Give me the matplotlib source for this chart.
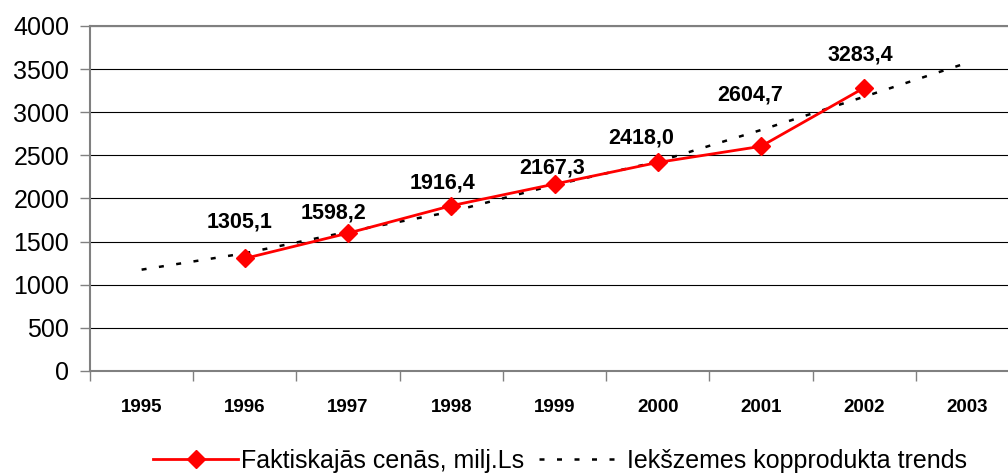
import numpy as np
import matplotlib
matplotlib.use('Agg')
import matplotlib.pyplot as plt

plt.rcParams['font.family'] = ['Liberation Sans', 'DejaVu Sans']

# category axis
years = ['1995', '1996', '1997', '1998', '1999', '2000', '2001', '2002', '2003']

# actual prices, 1996..2002
gdp_years = ['1996', '1997', '1998', '1999', '2000', '2001', '2002']
gdp = [1305.1, 1598.2, 1916.4, 2167.3, 2418.0, 2604.7, 3283.4]
gdp_labels = ['1305,1', '1598,2', '1916,4', '2167,3', '2418,0', '2604,7', '3283,4']

# trend line, 1995..2003
trend = [1175, 1365, 1615, 1847, 2157, 2427, 2794, 3180, 3574]

# label offsets in pixels (dx, dy) relative to each point
label_dx = [-5, -15, -9, -2, -17, -11, -4]
label_dy = [36, 20, 23, 16, 24, 51, 33]

fig = plt.figure(figsize=(10.08, 4.74), dpi=100)
ax = fig.add_axes([90 / 1008, 1 - 371 / 474, 929 / 1008, 345 / 474])

xi = {y: i for i, y in enumerate(years)}
x_trend = np.arange(len(years))
x_gdp = [xi[y] for y in gdp_years]

ax.plot(x_trend, trend, color='black', lw=1.8, linestyle=(0, (2, 5)),
        label='Iekšzemes kopprodukta trends', zorder=3)
ax.plot(x_gdp, gdp, color='#ff0000', lw=2, marker='D', markersize=9.5,
        label='Faktiskajās cenās, milj.Ls', zorder=4)

for x, v, s, dx, dy in zip(x_gdp, gdp, gdp_labels, label_dx, label_dy):
    ax.annotate(s, (x, v), xytext=(dx, dy), textcoords='offset pixels',
                ha='center', va='center', fontsize=15.5, fontweight='bold')

ax.set_ylim(0, 4000)
ax.set_yticks(np.arange(0, 4001, 500))
ax.set_xlim(-0.5, len(years) - 0.5)
ax.set_xticks(x_trend)
ax.set_xticklabels(years, fontweight='bold', fontsize=13.5)
ax.set_xticks(np.arange(-0.5, len(years)), minor=True)
ax.tick_params(axis='x', which='major', length=0, pad=20)
ax.tick_params(axis='x', which='minor', length=7, width=1, color='#808080')
ax.tick_params(axis='y', length=7, width=1, color='#808080', labelsize=18, pad=8)

ax.grid(axis='y', color='black', lw=0.8)
ax.set_axisbelow(True)
for side in ['left', 'bottom', 'top']:
    ax.spines[side].set_color('#808080')
    ax.spines[side].set_linewidth(1.5)
ax.spines['right'].set_visible(False)

handles, labels = ax.get_legend_handles_labels()
fig.legend(handles[::-1], labels[::-1], loc='center', ncol=2,
           bbox_to_anchor=(560 / 1008, 1 - 461 / 474), frameon=False,
           fontsize=18, handlelength=3.4, handletextpad=0.1, columnspacing=0.6)

fig.savefig('out.png', dpi=100)
